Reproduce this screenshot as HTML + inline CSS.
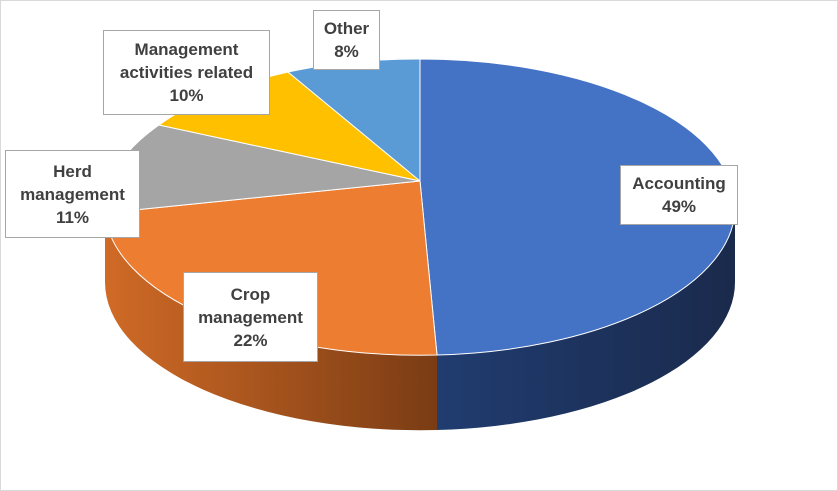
<!DOCTYPE html>
<html><head><meta charset="utf-8"><style>
body{margin:0;background:#fff;}
#c{position:relative;width:838px;height:491px;overflow:hidden;}
.lb{position:absolute;background:#fff;border:1px solid #a6a6a6;box-sizing:border-box;
font-family:"Liberation Sans",sans-serif;font-weight:bold;font-size:17px;line-height:23px;color:#404040;text-align:center;display:flex;align-items:center;justify-content:center;}
</style></head><body><div id="c">
<svg width="838" height="491" style="position:absolute;left:0;top:0">
<defs>
<linearGradient id="gb" x1="0" x2="1" y1="0" y2="0"><stop offset="0" stop-color="#203c70"/><stop offset="1" stop-color="#1a2a4c"/></linearGradient>
<linearGradient id="go" x1="0" x2="1" y1="0" y2="0"><stop offset="0" stop-color="#d06a26"/><stop offset="1" stop-color="#7a3c14"/></linearGradient>
</defs>
<rect x="0.5" y="0.5" width="837" height="490" fill="#fff" stroke="#d9d9d9"/>
<path d="M437,355 A315,148 0 0,0 735,207 L735,282 A315,148 0 0,1 437,430 Z" fill="url(#gb)"/>
<path d="M105,207 A315,148 0 0,0 437,355 L437,430 A315,148 0 0,1 105,282 Z" fill="url(#go)"/>
<g stroke="#fff" stroke-width="1">
<path d="M420,181 L420,59 A315,148 0 0,1 735,207 A315,148 0 0,1 437,355 Z" fill="#4472C4"/>
<path d="M420,181 L437,355 A315,148 0 0,1 105,213 Z" fill="#ED7D31"/>
<path d="M420,181 L105,213 A315,148 0 0,1 159,125 Z" fill="#A5A5A5"/>
<path d="M420,181 L159,125 A315,148 0 0,1 288,72 Z" fill="#FFC000"/>
<path d="M420,181 L288,72 A315,148 0 0,1 420,59 Z" fill="#5B9BD5"/>
</g>
</svg>
<div class="lb" style="left:313px;top:10px;width:67px;height:60px">Other<br>8%</div>
<div class="lb" style="left:103px;top:30px;width:167px;height:85px">Management<br>activities related<br>10%</div>
<div class="lb" style="left:5px;top:150px;width:135px;height:88px">Herd<br>management<br>11%</div>
<div class="lb" style="left:183px;top:272px;width:135px;height:90px">Crop<br>management<br>22%</div>
<div class="lb" style="left:620px;top:165px;width:118px;height:60px">Accounting<br>49%</div>
</div></body></html>
